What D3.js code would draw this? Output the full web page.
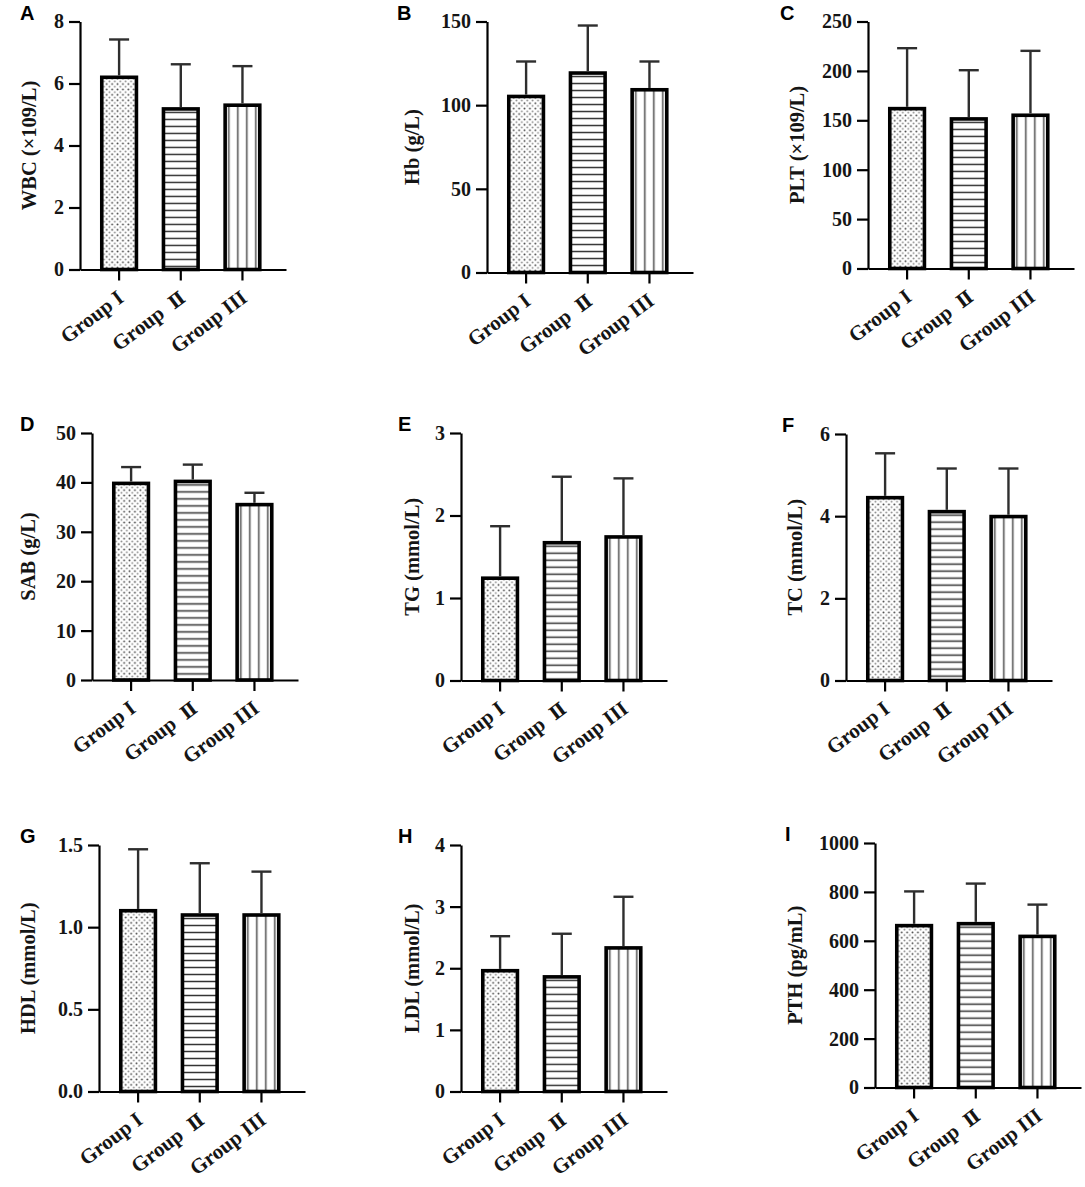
<!DOCTYPE html>
<html>
  <head>
    <meta charset="utf-8">
    <title>Blood indexes by group</title>
    <script src="https://cdn.jsdelivr.net/npm/d3@7/dist/d3.min.js"></script>
    <style>
      body { margin: 0; background: #fff; }
      text { font-family: "Liberation Serif", "Times New Roman", serif; font-weight: bold; fill: #151515; }
      .letter { font-family: "Liberation Sans", Arial, sans-serif; font-size: 20px; fill: #000; }
      .numeral { font-family: "DejaVu Serif", "Liberation Serif", serif; font-size: 18.5px; }
    </style>
  </head>

  <body>
    <div id="chart"></div>

    <script>
      // data
      let groups = ["Group I", "Group \u2161", "Group III"];
      let letters = ["A", "B", "C", "D", "E", "F", "G", "H", "I"];
      let titles = ["WBC (\u00d7109/L)", "Hb (g/L)", "PLT (\u00d7109/L)", "SAB (g/L)", "TG (mmol/L)",
        "TC (mmol/L)", "HDL (mmol/L)", "LDL (mmol/L)", "PTH (pg/mL)"];
      let yMax = [8, 150, 250, 50, 3, 6, 1.5, 4, 1000];
      let yTicks = [
        [0, 2, 4, 6, 8],
        [0, 50, 100, 150],
        [0, 50, 100, 150, 200, 250],
        [0, 10, 20, 30, 40, 50],
        [0, 1, 2, 3],
        [0, 2, 4, 6],
        [0, 0.5, 1, 1.5],
        [0, 1, 2, 3, 4],
        [0, 200, 400, 600, 800, 1000]
      ];
      let tickFormats = ["d", "d", "d", "d", "d", "d", ".1f", "d", "d"];
      let means = [
        [6.2, 5.18, 5.3],
        [105.2, 119.2, 109.2],
        [161.8, 151.4, 155.1],
        [39.8, 40.2, 35.5],
        [1.24, 1.67, 1.74],
        [4.45, 4.11, 3.99],
        [1.10, 1.074, 1.074],
        [1.96, 1.86, 2.33],
        [662, 670, 618]
      ];
      let sds = [
        [1.22, 1.44, 1.26],
        [20.9, 28.4, 16.9],
        [61.2, 49.3, 65.2],
        [3.3, 3.4, 2.4],
        [0.63, 0.80, 0.71],
        [1.08, 1.05, 1.17],
        [0.374, 0.315, 0.264],
        [0.56, 0.70, 0.83],
        [140, 164, 130]
      ];

      // panel layout: y axis x, top tick y, zero y, axis title x, letter x
      let layout = [
        { ax: 80, top: 21.5, zero: 269.5, tx: 29, lx: 20 },
        { ax: 487, top: 21.5, zero: 272.5, tx: 412, lx: 397 },
        { ax: 868, top: 21.5, zero: 268.5, tx: 797, lx: 780 },
        { ax: 92, top: 433, zero: 680, tx: 28, lx: 20 },
        { ax: 461, top: 433, zero: 680.5, tx: 412, lx: 398 },
        { ax: 846, top: 434, zero: 680.5, tx: 795, lx: 782 },
        { ax: 99, top: 845, zero: 1091.5, tx: 28, lx: 20 },
        { ax: 461, top: 845, zero: 1091.5, tx: 412, lx: 398 },
        { ax: 875, top: 843, zero: 1087.5, tx: 795, lx: 785 }
      ];
      let plotWidth = 206;
      let barStroke = 3.6;

      let svg = d3.select("#chart")
        .append("svg")
          .attr("width", 1085)
          .attr("height", 1187);
      let defs = svg.append("defs");

      // fill patterns, one per bar so the hatching lines up with each bar
      function makePattern(id, kind, x0, y0) {
        let p = defs.append("pattern")
          .attr("id", id)
          .attr("patternUnits", "userSpaceOnUse");
        if (kind == 0) {
          p.attr("width", 5.4).attr("height", 5.4).attr("x", x0).attr("y", y0);
          p.append("rect").attr("width", 5.4).attr("height", 5.4).attr("fill", "#fff");
          p.append("circle").attr("cx", 1.35).attr("cy", 1.35).attr("r", 0.95).attr("fill", "#444");
          p.append("circle").attr("cx", 4.05).attr("cy", 4.05).attr("r", 0.95).attr("fill", "#8a8a8a");
        } else if (kind == 1) {
          p.attr("width", 10).attr("height", 7).attr("x", x0).attr("y", y0);
          p.append("rect").attr("width", 10).attr("height", 7).attr("fill", "#fff");
          p.append("line").attr("x1", 0).attr("x2", 10).attr("y1", 3.5).attr("y2", 3.5)
            .attr("stroke", "#333").attr("stroke-width", 1.5);
        } else {
          p.attr("width", 9).attr("height", 10).attr("x", x0 + 1).attr("y", y0);
          p.append("rect").attr("width", 9).attr("height", 10).attr("fill", "#fff");
          p.append("line").attr("x1", 4.5).attr("x2", 4.5).attr("y1", 0).attr("y2", 10)
            .attr("stroke", "#4a4a4a").attr("stroke-width", 1.5);
        }
      }

      letters.forEach(function(letter, k) {
        let L = layout[k];
        let g = svg.append("g").attr("class", "panel");

        let x = d3.scaleBand()
          .domain(groups)
          .range([L.ax, L.ax + plotWidth])
          .paddingInner(0.38)
          .paddingOuter(0.36)
          .align(0.45);
        let y = d3.scaleLinear()
          .domain([0, yMax[k]])
          .range([L.zero, L.top]);

        // bars
        let rows = groups.map(function(d, i) {
          return { group: d, i: i, mean: means[k][i], sd: sds[k][i] };
        });
        rows.forEach(function(d) {
          makePattern("pat" + k + "_" + d.i, d.i, x(d.group), y(d.mean));
        });
        g.selectAll(".bar")
          .data(rows)
          .enter().append("rect")
            .attr("class", "bar")
            .attr("x", function(d) { return x(d.group) + barStroke / 2; })
            .attr("y", function(d) { return y(d.mean); })
            .attr("width", x.bandwidth() - barStroke)
            .attr("height", function(d) { return y(0) - y(d.mean); })
            .attr("fill", function(d) { return "url(#pat" + k + "_" + d.i + ")"; })
            .attr("stroke", "#000")
            .attr("stroke-width", barStroke);

        // error bars (upper only)
        let err = g.selectAll(".err")
          .data(rows)
          .enter().append("g")
            .attr("class", "err")
            .attr("stroke", "#2e2e2e")
            .attr("stroke-width", 2.4);
        err.append("line")
          .attr("x1", function(d) { return x(d.group) + x.bandwidth() / 2; })
          .attr("x2", function(d) { return x(d.group) + x.bandwidth() / 2; })
          .attr("y1", function(d) { return y(d.mean) - barStroke / 2; })
          .attr("y2", function(d) { return y(d.mean + d.sd); });
        err.append("line")
          .attr("x1", function(d) { return x(d.group) + x.bandwidth() / 2 - 10; })
          .attr("x2", function(d) { return x(d.group) + x.bandwidth() / 2 + 10; })
          .attr("y1", function(d) { return y(d.mean + d.sd); })
          .attr("y2", function(d) { return y(d.mean + d.sd); });

        // y axis
        let yAxis = g.append("g")
          .attr("transform", "translate(" + L.ax + ",0)")
          .call(d3.axisLeft(y)
            .tickValues(yTicks[k])
            .tickFormat(d3.format(tickFormats[k]))
            .tickSize(11)
            .tickSizeOuter(0)
            .tickPadding(5));
        yAxis.selectAll("path, line").attr("stroke", "#000").attr("stroke-width", 2.2);
        yAxis.selectAll("text")
          .attr("font-size", 20)
          .attr("fill", null);

        // x axis
        let xAxis = g.append("g")
          .attr("transform", "translate(0," + L.zero + ")")
          .call(d3.axisBottom(x)
            .tickSize(11)
            .tickSizeOuter(0));
        xAxis.selectAll("path, line").attr("stroke", "#000").attr("stroke-width", 2.2);
        xAxis.selectAll("text")
          .attr("font-size", 21)
          .attr("fill", null)
          .attr("text-anchor", "end")
          .attr("x", 6)
          .attr("y", 31)
          .attr("dy", 0)
          .attr("transform", "rotate(-37,6,31)")
          .each(function(d) {
            // the roman numeral two gets a serif fallback face
            if (d.indexOf("\u2161") >= 0) {
              let t = d3.select(this).text("Group\u00a0\u00a0");
              t.append("tspan").attr("class", "numeral").text("\u2161");
            }
          });

        // axis title
        g.append("text")
          .attr("transform", "translate(" + L.tx + "," + (L.top + L.zero) / 2 + ") rotate(-90)")
          .attr("text-anchor", "middle")
          .attr("dy", "0.35em")
          .attr("font-size", 20.5)
          .text(titles[k]);

        // panel letter
        g.append("text")
          .attr("class", "letter")
          .attr("x", L.lx)
          .attr("y", L.top - 2)
          .text(letter);
      });
    </script>
  </body>
</html>
